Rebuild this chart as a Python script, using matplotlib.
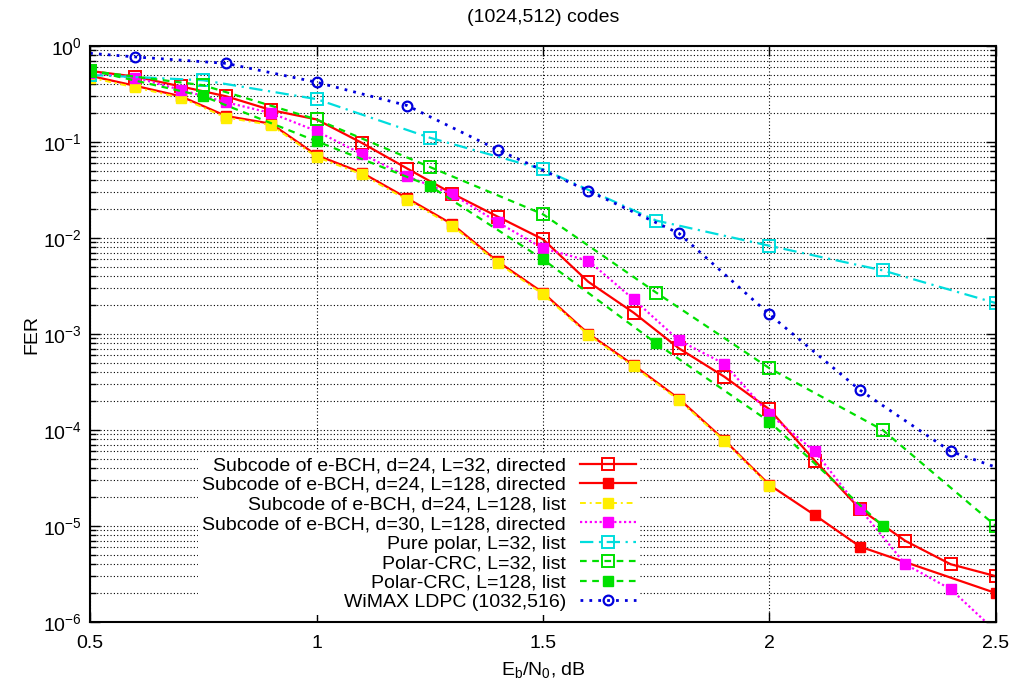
import matplotlib
matplotlib.use("Agg")
import matplotlib.pyplot as plt
from matplotlib.ticker import LogLocator, NullFormatter, FixedLocator

plt.rcParams['font.family'] = ['Liberation Sans', 'DejaVu Sans']
plt.rcParams['mathtext.fontset'] = 'custom'
plt.rcParams['mathtext.rm'] = 'Liberation Sans'
plt.rcParams['mathtext.it'] = 'Liberation Sans:italic'
plt.rcParams['font.size'] = 14

# Eb/N0 grids
snr_01 = [0.5, 0.6, 0.7, 0.8, 0.9, 1.0, 1.1, 1.2, 1.3, 1.4, 1.5,
          1.6, 1.7, 1.8, 1.9, 2.0, 2.1, 2.2, 2.3, 2.4, 2.5]
snr_l128 = [0.5, 0.6, 0.7, 0.8, 0.9, 1.0, 1.1, 1.2, 1.3, 1.4, 1.5,
            1.6, 1.7, 1.8, 1.9, 2.0, 2.1, 2.2, 2.5]
snr_list = [0.5, 0.6, 0.7, 0.8, 0.9, 1.0, 1.1, 1.2, 1.3, 1.4, 1.5,
            1.6, 1.7, 1.8, 1.9, 2.0]
snr_q = [0.5, 0.75, 1.0, 1.25, 1.5, 1.75, 2.0, 2.25, 2.5]
snr_q128 = [0.5, 0.75, 1.0, 1.25, 1.5, 1.75, 2.0, 2.25]
snr_ldpc = [0.5, 0.6, 0.8, 1.0, 1.2, 1.4, 1.6, 1.8, 2.0, 2.2, 2.4, 2.5]

# FER values
fer_d24_l32 = [0.55, 0.48, 0.38, 0.30, 0.215, 0.172, 0.098, 0.053, 0.029, 0.0167, 0.0097,
               0.0035, 0.00167, 7.1e-4, 3.6e-4, 1.64e-4, 4.8e-5, 1.5e-5, 7e-6, 4e-6, 3e-6]
fer_d24_l128 = [0.49, 0.385, 0.30, 0.187, 0.155, 0.073, 0.048, 0.026, 0.0139, 0.0057, 0.0027,
                1.01e-3, 4.75e-4, 2.12e-4, 7.9e-5, 2.68e-5, 1.3e-5, 6.1e-6, 2e-6]
fer_d24_list = [0.47, 0.37, 0.29, 0.18, 0.15, 0.070, 0.046, 0.025, 0.0134, 0.0055, 0.0026,
                9.8e-4, 4.6e-4, 2.05e-4, 7.7e-5, 2.6e-5]
fer_d30_l128 = [0.52, 0.47, 0.35, 0.26, 0.20, 0.13, 0.075, 0.044, 0.0285, 0.0146, 0.0078,
                0.0058, 0.0023, 8.6e-4, 4.9e-4, 1.46e-4, 6e-5, 1.5e-5, 4e-6, 2.2e-6, 8e-7]
fer_pure = [0.50, 0.44, 0.28, 0.111, 0.052, 0.0152, 0.0083, 0.0046, 0.0021]
fer_crc32 = [0.55, 0.39, 0.172, 0.055, 0.0177, 0.0027, 4.4e-4, 1.0e-4, 1.0e-5]
fer_crc128 = [0.56, 0.30, 0.102, 0.035, 0.0060, 8.0e-4, 1.22e-4, 1.0e-5]
fer_ldpc = [0.84, 0.77, 0.66, 0.42, 0.24, 0.083, 0.031, 0.0112, 0.0016, 2.6e-4, 6e-5, 4.1e-5]

labels = ["Subcode of e-BCH, d=24, L=32, directed",
          "Subcode of e-BCH, d=24, L=128, directed",
          "Subcode of e-BCH, d=24, L=128, list",
          "Subcode of e-BCH, d=30, L=128, directed",
          "Pure polar, L=32, list",
          "Polar-CRC, L=32, list",
          "Polar-CRC, L=128, list",
          "WiMAX LDPC (1032,516)"]

x_ticks = [0.5, 1.0, 1.5, 2.0, 2.5]
x_ticklabels = ['0.5', '1', '1.5', '2', '2.5']
y_ticks = [1e-6, 1e-5, 1e-4, 1e-3, 1e-2, 1e-1, 1]
y_ticklabels = [r'$\mathregular{10^{-6}}$', r'$\mathregular{10^{-5}}$', r'$\mathregular{10^{-4}}$',
                r'$\mathregular{10^{-3}}$', r'$\mathregular{10^{-2}}$', r'$\mathregular{10^{-1}}$',
                r'$\mathregular{10^{0}}$']

fig = plt.figure(figsize=(10.14, 6.84), dpi=100)
ax = fig.add_axes([0.0888, 0.0906, 0.8934, 0.8421])

red = '#ff0000'
yel = '#ffee00'
mag = '#ff00ff'
cya = '#00dddd'
grn = '#00e000'
blu = '#0000dd'

ax.plot(snr_01, fer_d24_l32, color=red, lw=1.6, ls='-', marker='s', ms=8,
        mfc='none', mec=red, mew=1.4, label=labels[0])
ax.plot(snr_l128, fer_d24_l128, color=red, lw=1.6, ls='-', marker='s', ms=7,
        mfc=red, mec=red, label=labels[1])
ax.plot(snr_list, fer_d24_list, color=yel, lw=1.4, ls=(0, (3, 2, 1, 2)), marker='s', ms=7,
        mfc=yel, mec=yel, label=labels[2])
ax.plot(snr_01, fer_d30_l128, color=mag, lw=1.6, ls=(0, (1, 1.2)), marker='s', ms=7,
        mfc=mag, mec=mag, label=labels[3])
ax.plot(snr_q, fer_pure, color=cya, lw=1.6, ls=(0, (6, 2.5, 1, 2.5)), marker='s', ms=8,
        mfc='none', mec=cya, mew=1.4, label=labels[4])
ax.plot(snr_q, fer_crc32, color=grn, lw=1.6, ls=(0, (3, 2.5)), marker='s', ms=8,
        mfc='none', mec=grn, mew=1.4, label=labels[5])
ax.plot(snr_q128, fer_crc128, color=grn, lw=1.6, ls=(0, (3, 2.5)), marker='s', ms=7,
        mfc=grn, mec=grn, label=labels[6])
ax.plot(snr_ldpc, fer_ldpc, color=blu, lw=2.0, ls=(0, (1, 2.2)), marker='o', ms=7,
        mfc='none', mec=blu, mew=1.6, markevery=list(range(1, len(snr_ldpc) - 1)),
        label=labels[7])

ax.set_yscale('log')
ax.set_xlim(0.5, 2.5)
ax.set_ylim(1e-6, 1)
ax.xaxis.set_major_locator(FixedLocator(x_ticks))
ax.set_xticklabels(x_ticklabels)
ax.yaxis.set_major_locator(FixedLocator(y_ticks))
ax.set_yticklabels(y_ticklabels)
ax.yaxis.set_minor_locator(LogLocator(base=10, subs=range(2, 10), numticks=20))
ax.yaxis.set_minor_formatter(NullFormatter())

ax.tick_params(which='both', direction='in', top=True, right=True, labelsize=14)
ax.tick_params(which='major', length=7, width=1)
ax.tick_params(which='minor', length=4, width=1)
ax.tick_params(axis='x', pad=9)
ax.tick_params(axis='y', pad=6)

ax.grid(True, which='major', axis='both', color='black', lw=0.8, ls=(0, (1, 2)))
ax.grid(True, which='minor', axis='y', color='black', lw=0.8, ls=(0, (1, 2)))
ax.set_axisbelow(True)

for s in ax.spines.values():
    s.set_linewidth(1.5)

ax.set_title("(1024,512) codes", fontsize=14, pad=17)
ax.set_ylabel("FER", fontsize=14, labelpad=2)
ax.set_xlabel(r"E$_\mathregular{b}$/N$_\mathregular{0}$, dB", fontsize=14, labelpad=6)

leg = ax.legend(loc='lower right', bbox_to_anchor=(0.607, 0.012), markerfirst=False,
                fontsize=14, handlelength=2.9, handletextpad=0.7, labelspacing=0.1,
                borderaxespad=0, borderpad=0.2, frameon=True, fancybox=False)
leg.get_frame().set_facecolor('white')
leg.get_frame().set_edgecolor('none')
leg.get_frame().set_alpha(1)

fig.savefig("out.png", dpi=100)
